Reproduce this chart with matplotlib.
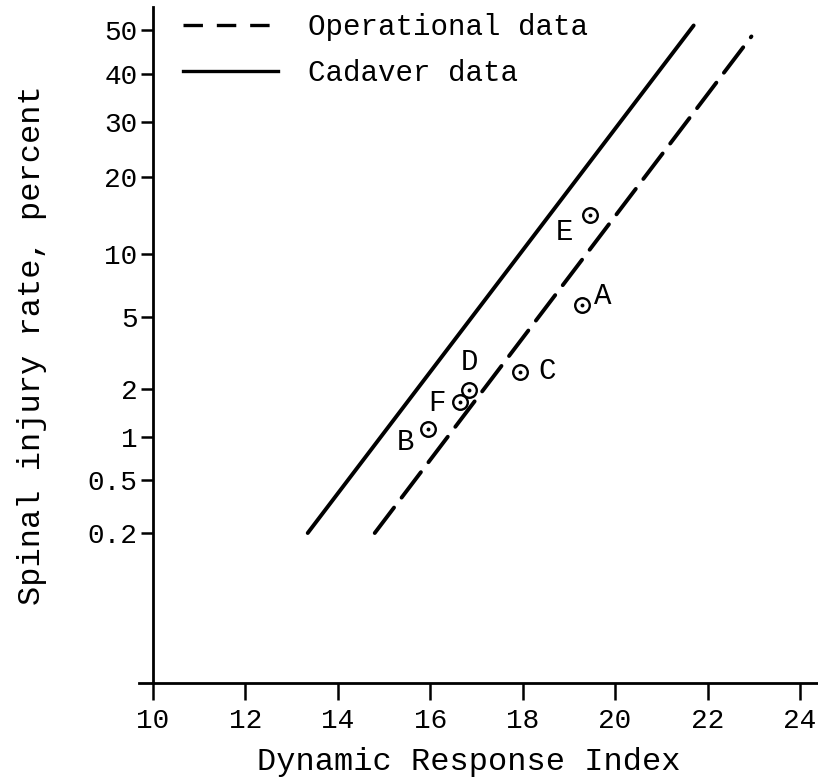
import math
import numpy as np
import matplotlib
matplotlib.use("Agg")
import matplotlib.pyplot as plt
from matplotlib.lines import Line2D

# ---------------- data ----------------
cadaver_dri = [13.35, 21.7]
cadaver_rate = [0.2, 51.0]
operational_dri = [14.8, 22.95]
operational_rate = [0.2, 48.5]

point_labels = ["A", "B", "C", "D", "E", "F"]
point_dri = [19.28, 15.95, 17.95, 16.85, 19.45, 16.65]
point_rate = [5.8, 1.12, 2.52, 1.97, 14.5, 1.67]

x_ticks = [10, 12, 14, 16, 18, 20, 22, 24]
y_ticks = [0.2, 0.5, 1, 2, 5, 10, 20, 30, 40, 50]
y_tick_labels = ["0.2", "0.5", "1", "2", "5", "10", "20", "30", "40", "50"]

# label offsets in points (style)
label_offsets = {"A": (15, 6), "B": (-16, -9), "C": (19, 1), "D": (0, 20),
                 "E": (-18, -12), "F": (-17, -1)}

# ---------------- probit scale ----------------
_a = [-3.969683028665376e+01, 2.209460984245205e+02, -2.759285104469687e+02,
      1.383577518672690e+02, -3.066479806614716e+01, 2.506628277459239e+00]
_b = [-5.447609879822406e+01, 1.615858368580409e+02, -1.556989798598866e+02,
      6.680131188771972e+01, -1.328068155833420e+01]
_c = [-7.784894002430293e-03, -3.223964580411365e-01, -2.400758277161838e+00,
      -2.549671627813604e+00, 4.374664141464968e+00, 2.938163982698783e+00]
_d = [7.784695709041462e-03, 3.224671290700398e-01, 2.445134137142996e+00,
      3.754408149753030e+00]
_plow = 0.02425


def _ppf(p):
    p = np.clip(np.asarray(p, dtype=float), 1e-12, 1 - 1e-12)
    with np.errstate(all="ignore"):
        ql = np.sqrt(-2 * np.log(p))
        xl = (((((_c[0]*ql+_c[1])*ql+_c[2])*ql+_c[3])*ql+_c[4])*ql+_c[5]) / \
             ((((_d[0]*ql+_d[1])*ql+_d[2])*ql+_d[3])*ql+1)
        qh = np.sqrt(-2 * np.log(1 - p))
        xh = -(((((_c[0]*qh+_c[1])*qh+_c[2])*qh+_c[3])*qh+_c[4])*qh+_c[5]) / \
             ((((_d[0]*qh+_d[1])*qh+_d[2])*qh+_d[3])*qh+1)
        q = p - 0.5
        r = q * q
        xc = (((((_a[0]*r+_a[1])*r+_a[2])*r+_a[3])*r+_a[4])*r+_a[5])*q / \
             (((((_b[0]*r+_b[1])*r+_b[2])*r+_b[3])*r+_b[4])*r+1)
    return np.where(p < _plow, xl, np.where(p > 1 - _plow, xh, xc))


_erf = np.vectorize(math.erf, otypes=[float])


def fwd(pct):
    return _ppf(np.asarray(pct, dtype=float) / 100.0)


def inv(z):
    return 100.0 * 0.5 * (1 + _erf(np.asarray(z, dtype=float) / math.sqrt(2)))


# ---------------- figure ----------------
plt.rcParams["font.family"] = ["Liberation Mono", "DejaVu Sans Mono"]
plt.rcParams["lines.scale_dashes"] = False

W, H = 818, 781
fig = plt.figure(figsize=(W / 100, H / 100), dpi=100)
ax = fig.add_axes([139 / W, 98 / H, (W - 139) / W, (683 - 7) / H])

ax.set_yscale("function", functions=(fwd, inv))
ax.set_xlim(9.70, 24.39)
ax.set_ylim(0.00935, 55.2)

lw = 2.8
ax.plot(cadaver_dri, cadaver_rate, color="black", lw=lw, solid_capstyle="round")
ax.plot(operational_dri, operational_rate, color="black", lw=lw,
        dashes=(23, 9), dash_capstyle="round")

ax.plot(point_dri, point_rate, ls="none", marker="o", ms=10.5, mfc="white",
        mec="black", mew=1.7)
ax.plot(point_dri, point_rate, ls="none", marker="o", ms=2.8, mfc="black",
        mec="black", mew=0)
for lab, x, y in zip(point_labels, point_dri, point_rate):
    dx, dy = label_offsets[lab]
    ax.annotate(lab, (x, y), xytext=(dx, dy), textcoords="offset points",
                ha="center", va="center", fontsize=21)

# spines
for s in ["top", "right"]:
    ax.spines[s].set_visible(False)
ax.spines["left"].set_position(("data", 10))
ax.spines["left"].set_linewidth(2.0)
ax.spines["bottom"].set_linewidth(2.0)

ax.set_xticks(x_ticks)
ax.set_xticklabels([str(t) for t in x_ticks])
ax.set_yticks(y_ticks)
ax.set_yticklabels(y_tick_labels)
ax.yaxis.set_minor_locator(matplotlib.ticker.NullLocator())
ax.xaxis.set_minor_locator(matplotlib.ticker.NullLocator())
ax.tick_params(axis="x", direction="out", length=12, width=1.8, pad=6,
               labelsize=20)
ax.tick_params(axis="y", direction="out", length=9, width=1.8, pad=2,
               labelsize=20)

ax.set_xlabel("Dynamic Response Index", fontsize=23, labelpad=0)
ax.xaxis.set_label_coords((469 - 139) / (W - 139), -(762 - 683) / (683 - 7))
ax.xaxis.label.set_va("center")
fig.text(32 / W, 1 - 345 / H, "Spinal injury rate, percent", rotation=90,
         ha="center", va="center", fontsize=23)

# legend
handles = [Line2D([], [], color="black", lw=2.4, dashes=(14, 10)),
           Line2D([], [], color="black", lw=2.4)]
leg = ax.legend(handles, ["Operational data", "Cadaver data"],
                loc="upper left", bbox_to_anchor=(183 / W, 1 - 13 / H),
                bbox_transform=fig.transFigure, frameon=False, fontsize=21,
                handlelength=3.25, handletextpad=1.05, labelspacing=0.62,
                borderpad=0, borderaxespad=0)

fig.savefig("out.png", dpi=100)
